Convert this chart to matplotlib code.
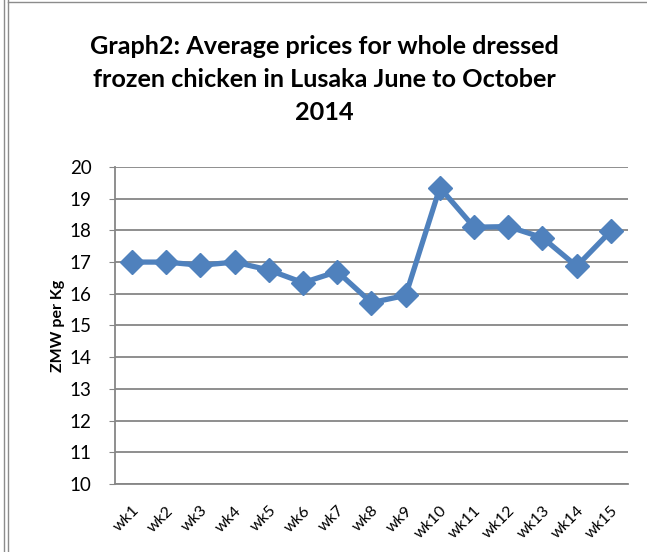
import matplotlib
matplotlib.use("Agg")
import matplotlib.pyplot as plt
from matplotlib.lines import Line2D

weeks = ["wk1", "wk2", "wk3", "wk4", "wk5", "wk6", "wk7", "wk8",
         "wk9", "wk10", "wk11", "wk12", "wk13", "wk14", "wk15"]
prices = [17.0, 17.0, 16.9, 17.0, 16.75, 16.35, 16.7, 15.72,
          15.95, 19.35, 18.1, 18.12, 17.77, 16.87, 17.98]
yticks = [10, 11, 12, 13, 14, 15, 16, 17, 18, 19, 20]

title = "Graph2: Average prices for whole dressed\nfrozen chicken in Lusaka June to October\n2014"
ylabel = "ZMW per Kg"

plt.rcParams['font.family'] = ['Lato', 'DejaVu Sans']

fig = plt.figure(figsize=(6.47, 5.52), dpi=100)
ax = fig.add_axes([0.1777, 0.1232, 0.7929, 0.5743])

x = list(range(len(weeks)))
ax.plot(x, prices, color="#4F81BD", lw=3.8, marker="D", markersize=12,
        markerfacecolor="#4F81BD", markeredgecolor="#4F81BD", zorder=3,
        solid_joinstyle="miter")

ax.set_xlim(-0.5, len(weeks) - 0.5)
ax.set_ylim(10, 20)
ax.set_yticks(yticks)
ax.set_yticklabels([str(v) for v in yticks], fontsize=13.5)
ax.set_xticks(x)
ax.set_xticklabels(weeks, rotation=45, ha="right", rotation_mode="anchor", fontsize=11.5)
ax.tick_params(axis="x", length=0, pad=14)
ax.tick_params(axis="y", length=4, color="#868686", pad=13)

ax.yaxis.grid(True, color="#868686", lw=1.3)
ax.set_axisbelow(True)
for s in ["top", "right"]:
    ax.spines[s].set_visible(False)
for s in ["left", "bottom"]:
    ax.spines[s].set_color("#868686")
    ax.spines[s].set_linewidth(1.3)

ax.set_ylabel(ylabel, fontsize=11.5, fontweight="bold", labelpad=3)

fig.text(0.502, 0.856, title, ha="center", va="center", fontsize=18.2,
         fontweight="bold", linespacing=1.52)

# document frame lines
fig.add_artist(Line2D([0.006, 0.006], [0, 1], color="#8c8c8c", lw=1))
fig.add_artist(Line2D([0.012, 0.012], [0, 1], color="#8c8c8c", lw=1))
fig.add_artist(Line2D([0.012, 1], [0.997, 0.997], color="#8c8c8c", lw=1))

fig.savefig("out.png", dpi=100)
